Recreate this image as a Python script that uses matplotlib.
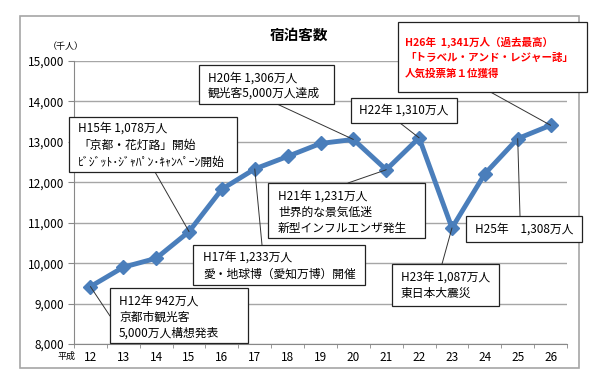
import matplotlib
matplotlib.use("Agg")
import matplotlib.pyplot as plt
from matplotlib.patches import Rectangle

plt.rcParams['font.family'] = ['Noto Sans CJK JP', 'DejaVu Sans']

# data (thousand guests, Heisei year)
years = [12, 13, 14, 15, 16, 17, 18, 19, 20, 21, 22, 23, 24, 25, 26]
guests = [9420, 9900, 10120, 10780, 11830, 12330, 12640, 12960,
          13060, 12310, 13100, 10870, 12210, 13080, 13410]
y_ticks = [8000, 9000, 10000, 11000, 12000, 13000, 14000, 15000]

# annotation texts, keyed by year
notes = {
    20: ["H20年 1,306万人", "観光客5,000万人達成"],
    26: ["H26年  1,341万人（過去最高）", "「トラベル・アンド・レジャー誌」", "人気投票第１位獲得"],
    22: ["H22年 1,310万人"],
    15: ["H15年 1,078万人", "「京都・花灯路」開始", "ﾋﾞｼﾞｯﾄ･ｼﾞｬﾊﾟﾝ･ｷｬﾝﾍﾟｰﾝ開始"],
    21: ["H21年 1,231万人", "世界的な景気低迷", "新型インフルエンザ発生"],
    17: ["H17年 1,233万人", "愛・地球博（愛知万博）開催"],
    25: ["H25年　1,308万人"],
    23: ["H23年 1,087万人", "東日本大震災"],
    12: ["H12年 942万人", "京都市観光客", "5,000万人構想発表"],
}

W, H = 600, 381
# layout in pixels: box (x0, y0, x1, y1), text x, line y's, leader end on box
layout = {
    20: ((199, 65, 334, 104), 208, [78, 93], (277, 104)),
    26: ((398, 22, 587, 92), 405, [42, 58, 74], (485, 89)),
    22: ((351, 98, 457, 123), 359, [110], (400, 123)),
    15: ((69, 117, 237, 172), 78, [128, 145, 162], (155, 172)),
    21: ((268, 183, 425, 238), 278, [196, 212, 228], (348, 183)),
    17: ((193, 245, 365, 285), 203, [257, 274], (262, 245)),
    25: ((466, 216, 582, 242), 475, [229], (520, 216)),
    23: ((392, 264, 499, 306), 401, [277, 293], (442, 264)),
    12: ((110, 288, 248, 343), 119, [301, 317, 333], (110, 316)),
}


def fx(x):
    return x / W


def fy(y):
    return 1 - y / H


fig = plt.figure(figsize=(6, 3.81), dpi=100)
fig.patches.append(Rectangle((fx(20), fy(368)), fx(559), (368 - 16) / H,
                             transform=fig.transFigure, fill=False,
                             edgecolor='#a6a6a6', lw=1.2))

ax = fig.add_axes([fx(74), fy(344), fx(493), 283 / H])
xs = list(range(len(years)))
ax.plot(xs, guests, color='#4a7ebb', lw=3.5, marker='D', markersize=7,
        markeredgecolor='#4a7ebb', zorder=3)
ax.set_xlim(-0.5, len(years) - 0.5)
ax.set_ylim(8000, 15000)
ax.set_yticks(y_ticks)
ax.set_yticklabels([f"{v:,}" for v in y_ticks], fontsize=8.5)
ax.set_xticks(xs)
ax.set_xticklabels([str(y) for y in years], fontsize=8.5)
ax.set_xticks([i - 0.5 for i in range(len(years) + 1)], minor=True)
ax.tick_params(axis='x', which='major', length=0, pad=5)
ax.tick_params(axis='x', which='minor', length=3, color='#888888')
ax.tick_params(axis='y', length=4, color='#888888', pad=3)
ax.grid(axis='y', color='#a6a6a6', lw=1)
ax.set_axisbelow(True)
for s in ['top', 'right']:
    ax.spines[s].set_visible(False)
ax.spines['left'].set_color('#888888')
ax.spines['bottom'].set_color('#888888')

fig.text(fx(299), fy(35), "宿泊客数", ha='center', va='center',
         fontsize=10.5, fontweight='bold')
fig.text(fx(66), fy(47), "（千人）", ha='center', va='center', fontsize=6.5)
fig.text(fx(66), fy(356), "平成", ha='center', va='center', fontsize=6.5)

for yr, lines in notes.items():
    (x0, y0, x1, y1), tx, tys, (lx, ly) = layout[yr]
    i = years.index(yr)
    red = yr == 26
    ax.annotate("", xy=(i, guests[i]), xycoords='data',
                xytext=(fx(lx), fy(ly)), textcoords='figure fraction',
                arrowprops=dict(arrowstyle='-', color='#333333', lw=0.7,
                                shrinkA=0, shrinkB=0), zorder=4)
    fig.patches.append(Rectangle((fx(x0), fy(y1)), fx(x1 - x0), (y1 - y0) / H,
                                 transform=fig.transFigure, facecolor='white',
                                 edgecolor='#222222', lw=0.9, zorder=5))
    for line, ty in zip(lines, tys):
        fig.text(fx(tx), fy(ty), line, ha='left', va='center',
                 fontsize=7.6 if red else 8.5,
                 color='#ff0000' if red else 'black',
                 fontweight='bold' if red else 'normal', zorder=6)

fig.savefig("out.png", dpi=100)
